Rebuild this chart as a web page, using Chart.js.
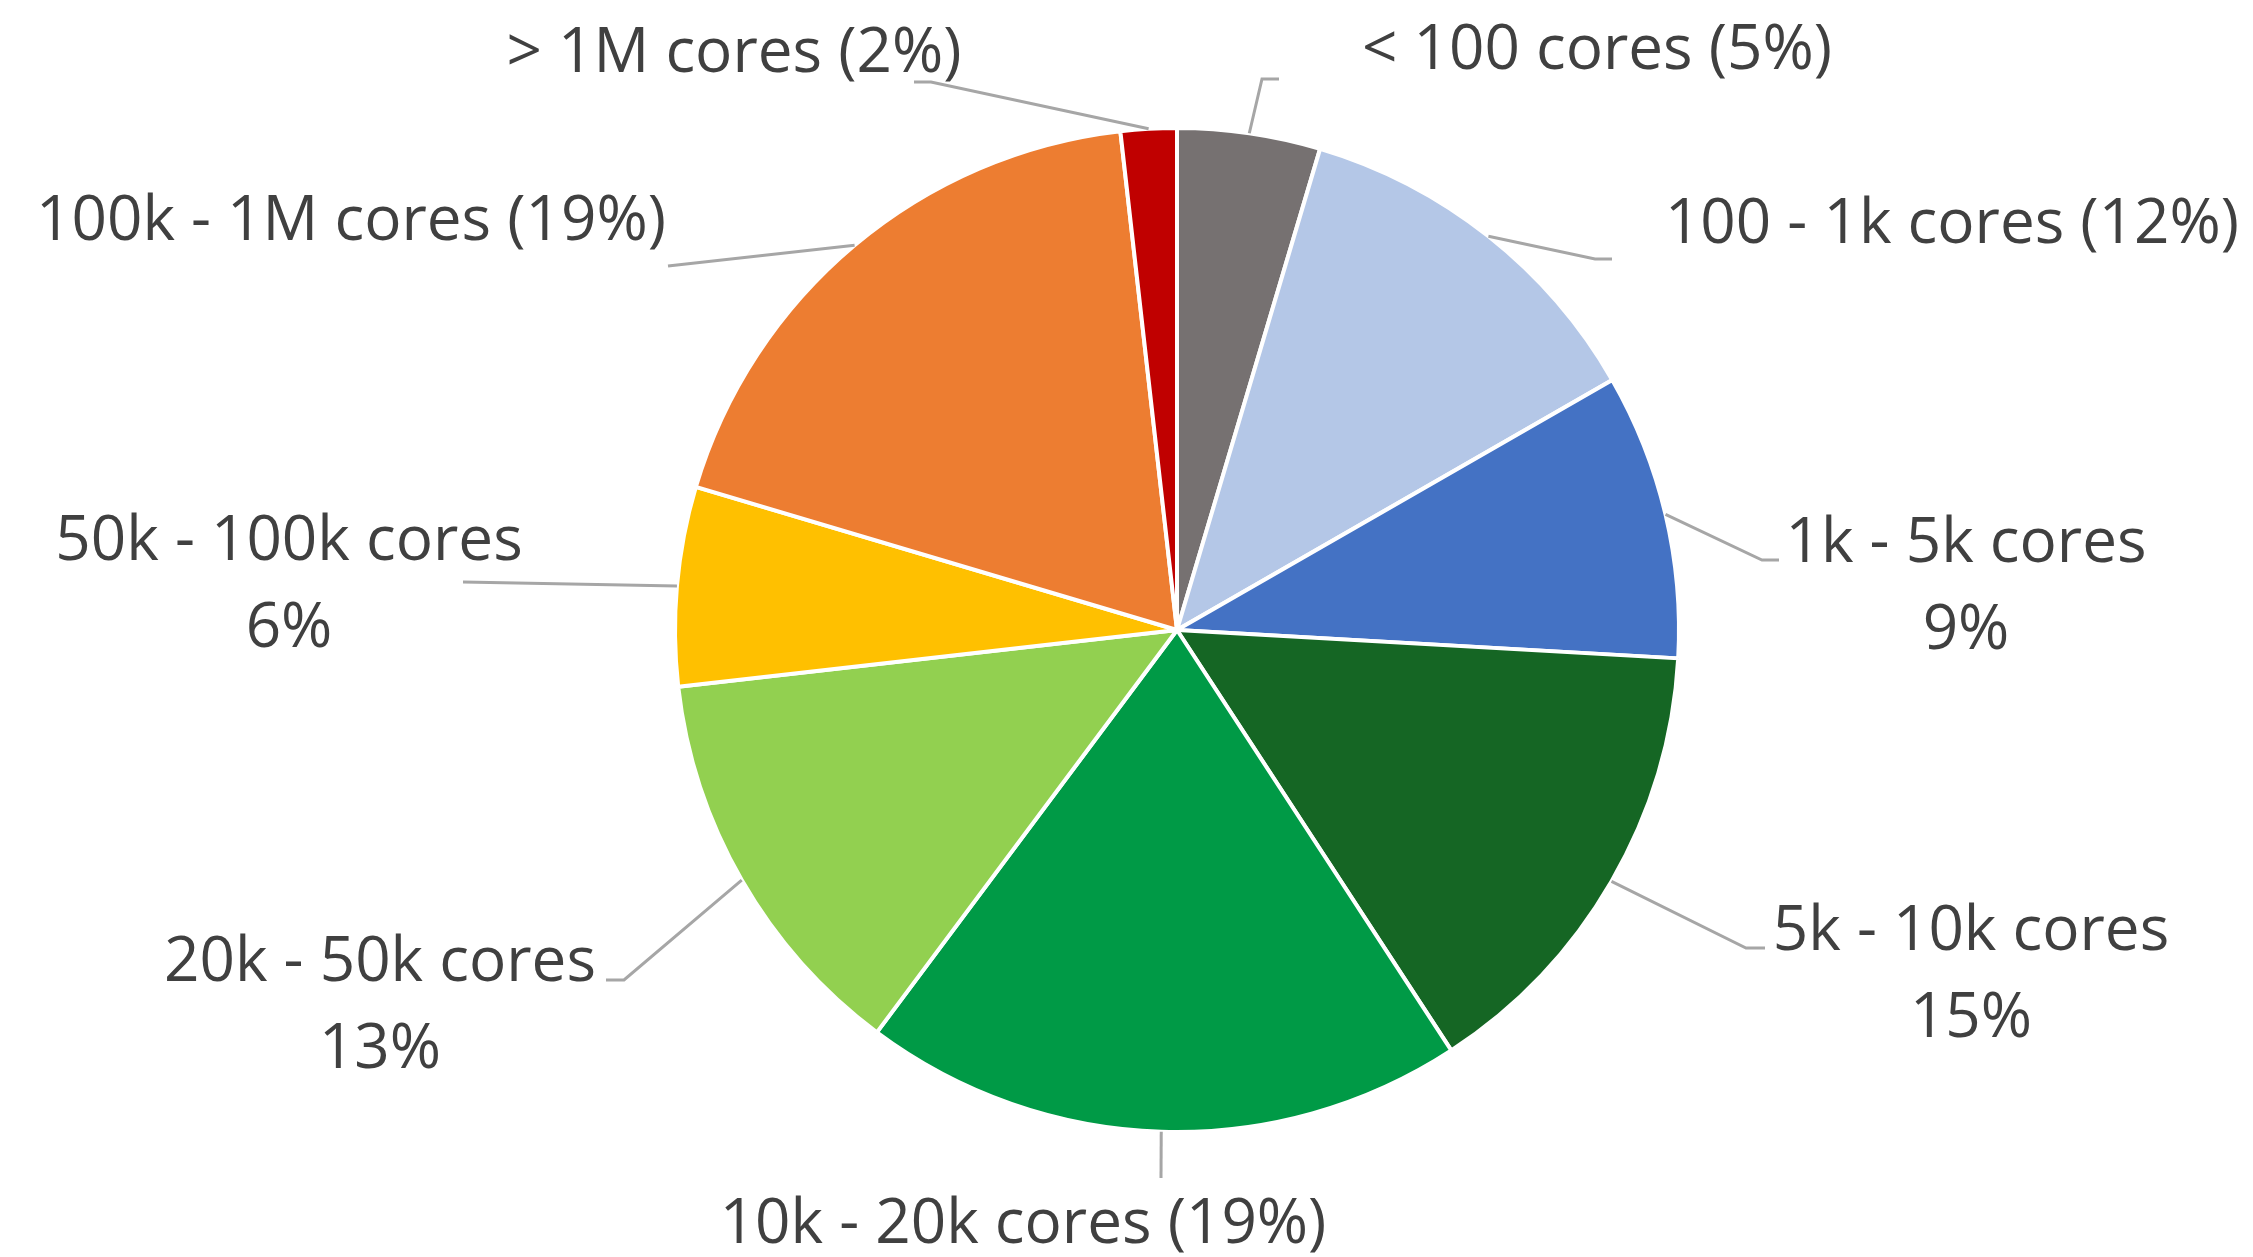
<!DOCTYPE html>
<html>
<head>
<meta charset="utf-8">
<script src="https://cdn.jsdelivr.net/npm/chart.js@4/dist/chart.umd.min.js"></script>
<style>
  html, body { margin: 0; padding: 0; background: #fff; }
  #wrap { width: 2253px; height: 1257px; }
</style>
</head>
<body>
<div id="wrap"><canvas id="coresChart"></canvas></div>
<script>
const LABELS = ['< 100 cores', '100 - 1k cores', '1k - 5k cores', '5k - 10k cores', '10k - 20k cores',
                '20k - 50k cores', '50k - 100k cores', '100k - 1M cores', '> 1M cores'];
// shares in % (labels show them rounded)
const SHARES = [4.6, 12.1, 9.2, 14.9, 19.4, 13.0, 6.4, 18.6, 1.8];
const COLORS = ['#767171', '#B4C7E7', '#4472C4', '#156624', '#009A46',
                '#92D050', '#FFC000', '#ED7D31', '#C00000'];
// true -> "name (x%)" on one line, false -> name, then x% underneath
const ONE_LINE = [true, true, false, false, true, false, false, true, true];

// label layout, px from the pie centre: text centre, leader elbow, horizontal stub
const TEXT_AT  = [[420, -583], [775, -409], [789, -47], [794, 341], [-154, 591],
                  [-797, 372], [-888, -49], [-826, -412], [-443, -580]];
const ELBOW_AT = [[85, -551], [418, -371], [585, -70], [569, 318], [-16, 548],
                  [-553, 350], [-714, -48], [-509, -364], [-246, -548]];
const STUB     = [17, 17, 17, 19, 0, -18, 0, 0, -17];

const FONT = '62px "Open Sans"';
const TEXT_COLOR = '#404040';
const LINE_H = 87;

const outsideLabels = {
  id: 'outsideLabels',
  afterDatasetsDraw(chart) {
    const ctx = chart.ctx;
    const meta = chart.getDatasetMeta(0);
    const total = SHARES.reduce((a, b) => a + b, 0);

    ctx.save();
    meta.data.forEach((arc, i) => {
      const p = arc.getProps(['x', 'y', 'startAngle', 'endAngle', 'outerRadius'], true);
      const mid = (p.startAngle + p.endAngle) / 2;
      const ex = p.x + Math.cos(mid) * p.outerRadius;
      const ey = p.y + Math.sin(mid) * p.outerRadius;
      const bx = p.x + ELBOW_AT[i][0];
      const by = p.y + ELBOW_AT[i][1];

      ctx.strokeStyle = '#A6A6A6';
      ctx.lineWidth = 3;
      ctx.beginPath();
      ctx.moveTo(ex, ey);
      ctx.lineTo(bx, by);
      if (STUB[i]) ctx.lineTo(bx + STUB[i], by);
      ctx.stroke();

      const pct = Math.round(SHARES[i] / total * 100) + '%';
      const lines = ONE_LINE[i] ? [`${LABELS[i]} (${pct})`] : [LABELS[i], pct];
      const tx = p.x + TEXT_AT[i][0];
      const ty = p.y + TEXT_AT[i][1] - (lines.length - 1) * LINE_H / 2;

      ctx.font = FONT;
      ctx.fillStyle = TEXT_COLOR;
      ctx.textAlign = 'center';
      ctx.textBaseline = 'alphabetic';
      lines.forEach((t, k) => ctx.fillText(t, tx, ty + k * LINE_H + 22));
    });
    ctx.restore();
  }
};

new Chart(document.getElementById('coresChart'), {
  type: 'pie',
  data: {
    labels: LABELS,
    datasets: [{
      data: SHARES,
      backgroundColor: COLORS,
      borderColor: '#ffffff',
      borderWidth: 4
    }]
  },
  options: {
    responsive: true,
    maintainAspectRatio: false,
    animation: false,
    layout: { padding: { left: 673, right: 572, top: 126, bottom: 123 } },
    plugins: { legend: { display: false }, tooltip: { enabled: false } }
  },
  plugins: [outsideLabels]
});
</script>
</body>
</html>
